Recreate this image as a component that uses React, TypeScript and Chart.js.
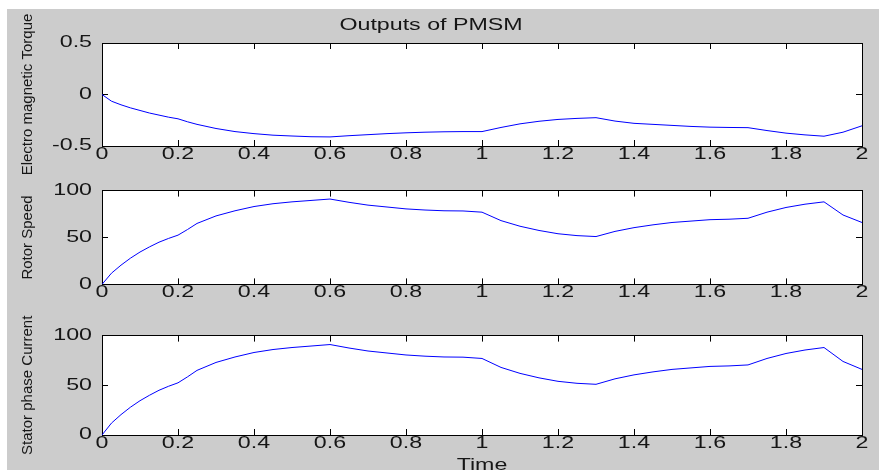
import React, { useEffect, useRef } from 'react';
import { Chart, registerables } from 'chart.js';

Chart.register(...registerables);

const time = [0, 0.025, 0.05, 0.075, 0.1, 0.125, 0.15, 0.175, 0.2, 0.225, 0.25, 0.3, 0.35, 0.4, 0.45, 0.5, 0.55, 0.6, 0.65, 0.7, 0.75, 0.8, 0.85, 0.9, 0.95, 1.0, 1.05, 1.1, 1.15, 1.2, 1.25, 1.3, 1.35, 1.4, 1.45, 1.5, 1.55, 1.6, 1.65, 1.7, 1.75, 1.8, 1.85, 1.9, 1.95, 2.0];

const torque = [0, -0.065, -0.1, -0.13, -0.155, -0.18, -0.2, -0.22, -0.236, -0.265, -0.29, -0.33, -0.36, -0.38, -0.395, -0.403, -0.41, -0.412, -0.4, -0.39, -0.38, -0.372, -0.366, -0.362, -0.36, -0.36, -0.32, -0.285, -0.26, -0.242, -0.232, -0.225, -0.258, -0.28, -0.29, -0.3, -0.31, -0.317, -0.32, -0.322, -0.35, -0.375, -0.392, -0.405, -0.366, -0.304];

const rotorSpeed = [0, 12, 20.5, 28, 34.5, 40, 45, 49, 52.5, 58.5, 65, 73, 78.5, 83, 86, 88, 89.5, 91, 87.5, 84.5, 82.5, 80.5, 79.3, 78.5, 78.3, 77, 68, 62, 57.5, 54, 52, 51, 56.5, 60.5, 63.5, 66, 67.5, 69, 69.5, 70.5, 77, 82, 85.5, 88, 74, 66];

const statorCurrent = [0, 12, 20.5, 28, 34.5, 40, 45, 49, 52.5, 58.5, 65, 73, 78.5, 83, 86, 88, 89.5, 91, 87.5, 84.5, 82.5, 80.5, 79.3, 78.5, 78.3, 77, 68, 62, 57.5, 54, 52, 51, 56.5, 60.5, 63.5, 66, 67.5, 69, 69.5, 70.5, 77, 82, 85.5, 88, 74, 66];

const chartTitle = 'Outputs of PMSM';
const xLabel = 'Time';
const yLabels = ['Electro magnetic Torque', 'Rotor Speed', 'Stator phase Current'];
const yRanges = [
  [-0.5, 0.5, 0.5],
  [0, 100, 50],
  [0, 100, 50],
];

const FONT = "'Liberation Sans', Arial, Helvetica, sans-serif";
const TEXT = '#161616';
const H_STRETCH = 1.45;

type Panel = {
  values: number[];
  idx: number;
  top: number;
  height: number;
  padTop: number;
  xAxisH: number;
  showTitle: boolean;
  showXTitle: boolean;
};

const panels: Panel[] = [
  { values: torque, idx: 0, top: 9, height: 176, padTop: 0, xAxisH: 39, showTitle: true, showXTitle: false },
  { values: rotorSpeed, idx: 1, top: 165, height: 145, padTop: 22, xAxisH: 21, showTitle: false, showXTitle: false },
  { values: statorCurrent, idx: 2, top: 310, height: 170, padTop: 22, xAxisH: 45, showTitle: false, showXTitle: true },
];

const bgPlugin = {
  id: 'plotBg',
  beforeDraw(chart: any) {
    const ctx = chart.ctx;
    const a = chart.chartArea;
    ctx.save();
    ctx.fillStyle = '#ffffff';
    ctx.fillRect(a.left, a.top, a.right - a.left, a.bottom - a.top);
    ctx.restore();
  },
};

// horizontal text in the reference is drawn horizontally widened; vertical text is not
function widenHorizontalText(ctx: any) {
  if (ctx.__widened) return;
  ctx.__widened = true;
  const orig = ctx.fillText.bind(ctx);
  ctx.fillText = (text: string, x: number, y: number, maxWidth?: number) => {
    const m = ctx.getTransform();
    if (Math.abs(m.b) > 1e-6 || Math.abs(m.c) > 1e-6) {
      return maxWidth === undefined ? orig(text, x, y) : orig(text, x, y, maxWidth);
    }
    ctx.save();
    ctx.translate(x, y);
    ctx.scale(H_STRETCH, 1);
    orig(text, 0, 0);
    ctx.restore();
  };
}

const fmtX = (v: any) => String(Number(Number(v).toFixed(1)));

function PanelChart({ p }: { p: Panel }) {
  const ref = useRef<HTMLCanvasElement | null>(null);
  useEffect(() => {
    if (!ref.current) return;
    widenHorizontalText(ref.current.getContext('2d'));
    const [ymin, ymax, ystep] = yRanges[p.idx];
    const grid = { drawOnChartArea: false, drawTicks: true, tickLength: -6, color: '#000000', lineWidth: 1 };
    const border = { display: true, color: '#000000', width: 1 };
    const tickFont = { family: FONT, size: 16 };
    const chart = new Chart(ref.current, {
      type: 'line',
      data: {
        datasets: [
          {
            data: time.map((t, i) => ({ x: t, y: p.values[i] })),
            borderColor: '#0000ff',
            borderWidth: 1,
            pointRadius: 0,
            tension: 0,
            fill: false,
            xAxisID: 'x',
            yAxisID: 'y',
          },
        ],
      },
      options: {
        animation: false,
        responsive: false,
        maintainAspectRatio: false,
        devicePixelRatio: 1,
        layout: { padding: { left: 0, right: 17, top: p.padTop, bottom: 0 } },
        plugins: {
          legend: { display: false },
          tooltip: { enabled: false },
          title: {
            display: p.showTitle,
            text: chartTitle,
            color: TEXT,
            font: { family: FONT, size: 16, weight: 'normal' },
            padding: { top: 7.4, bottom: 7.4 },
          },
        },
        scales: {
          x: {
            type: 'linear',
            position: 'bottom',
            min: 0,
            max: 2,
            ticks: { stepSize: 0.2, color: TEXT, font: tickFont, padding: 5, maxRotation: 0, autoSkip: false, callback: fmtX },
            grid,
            border,
            title: { display: p.showXTitle, text: xLabel, color: TEXT, font: tickFont, padding: { top: 0, bottom: 4.4 } },
            afterFit: (s: any) => { s.height = p.xAxisH; },
          },
          x2: {
            type: 'linear',
            position: 'top',
            min: 0,
            max: 2,
            ticks: { display: false, stepSize: 0.2 },
            grid,
            border,
            afterFit: (s: any) => { s.height = 0; },
          },
          y: {
            type: 'linear',
            position: 'left',
            min: ymin,
            max: ymax,
            ticks: { stepSize: ystep, color: TEXT, font: tickFont, padding: 16 },
            grid,
            border,
            title: { display: true, text: yLabels[p.idx], color: TEXT, font: { family: FONT, size: 15 }, padding: { top: 19, bottom: 0 } },
            afterFit: (s: any) => { s.width = 102; },
          },
          y2: {
            type: 'linear',
            position: 'right',
            min: ymin,
            max: ymax,
            ticks: { display: false, stepSize: ystep },
            grid,
            border,
            afterFit: (s: any) => { s.width = 0; },
          },
        },
      } as any,
      plugins: [bgPlugin],
    });
    return () => chart.destroy();
  }, [p]);
  return (
    <canvas
      ref={ref}
      width={879}
      height={p.height}
      style={{ position: 'absolute', left: 0, top: p.top, width: 879, height: p.height }}
    />
  );
}

export default function App() {
  return (
    <div style={{ position: 'fixed', left: 0, top: 0, width: 879, height: 470, background: '#ffffff', overflow: 'hidden' }}>
      <div style={{ position: 'absolute', left: 7, top: 9, right: 0, bottom: 0, background: '#cccccc' }} />
      {panels.map((p) => (
        <PanelChart key={p.idx} p={p} />
      ))}
    </div>
  );
}
